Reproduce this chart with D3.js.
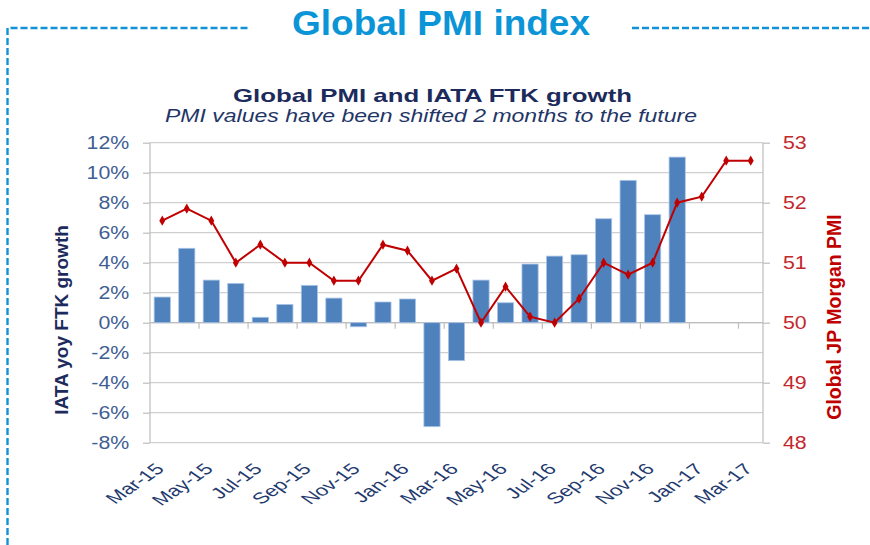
<!DOCTYPE html>
<html>
<head>
<meta charset="utf-8">
<script src="https://cdn.jsdelivr.net/npm/d3@7"></script>
<style>
  html, body { margin: 0; padding: 0; background: #fff; }
  svg { display: block; }
  text { font-family: "Liberation Sans", Arial, sans-serif; }
</style>
</head>
<body>
<svg id="chart" width="870" height="545"></svg>
<script>
// ---- data ----
const months = ["Mar-15","Apr-15","May-15","Jun-15","Jul-15","Aug-15","Sep-15","Oct-15","Nov-15","Dec-15",
  "Jan-16","Feb-16","Mar-16","Apr-16","May-16","Jun-16","Jul-16","Aug-16","Sep-16","Oct-16","Nov-16","Dec-16",
  "Jan-17","Feb-17","Mar-17"];
const ftkGrowth = [1.71, 4.96, 2.84, 2.62, 0.36, 1.22, 2.49, 1.64, -0.27, 1.38, 1.58, -6.93, -2.53,
  2.84, 1.33, 3.91, 4.44, 4.53, 6.93, 9.49, 7.2, 11.04, null, null, null];
const pmiValues = [51.7, 51.9, 51.7, 51.0, 51.3, 51.0, 51.0, 50.7, 50.7, 51.3, 51.2, 50.7, 50.9,
  50.0, 50.6, 50.1, 50.0, 50.4, 51.0, 50.8, 51.0, 52.0, 52.1, 52.7, 52.7];
const xTickLabels = ["Mar-15","May-15","Jul-15","Sep-15","Nov-15","Jan-16","Mar-16","May-16","Jul-16","Sep-16","Nov-16","Jan-17","Mar-17"];
const leftTicks = [12, 10, 8, 6, 4, 2, 0, -2, -4, -6, -8];
const rightTicks = [53, 52, 51, 50, 49, 48];
const pageTitle = "Global PMI index";
const chartTitle = "Global PMI and IATA FTK growth";
const chartSubtitle = "PMI values have been shifted 2 months to the future";
const leftAxisTitle = "IATA yoy FTK growth";
const rightAxisTitle = "Global JP Morgan PMI";

// ---- layout ----
const svg = d3.select("#chart");
const L = 150, R = 763, T = 142.7, B = 442.7;

function stretch(sel, k) {
  sel.each(function () {
    const w = this.getComputedTextLength();
    this.setAttribute("textLength", w * k);
    this.setAttribute("lengthAdjust", "spacingAndGlyphs");
  });
}

const x = d3.scaleBand().domain(months).range([L, R]).paddingInner(0.34).paddingOuter(0.17);
const yL = d3.scaleLinear().domain([-8, 12]).range([B, T]);
const yR = d3.scaleLinear().domain([48, 53]).range([B, T]);

// ---- frame (dashed) ----
svg.append("path")
  .attr("d", "M7.5,545 V28 H248 M632,28 H870")
  .attr("fill", "none").attr("stroke", "#1192d6").attr("stroke-width", 2.4)
  .attr("stroke-dasharray", "7,3");

svg.append("text").text(pageTitle)
  .attr("x", 292).attr("y", 35)
  .attr("font-family", "Lato, 'Open Sans', sans-serif")
  .attr("font-weight", "bold").attr("font-size", 35).attr("fill", "#0b95d7")
  .attr("textLength", 298).attr("lengthAdjust", "spacingAndGlyphs");

svg.append("text").text(chartTitle)
  .attr("x", 233).attr("y", 101.5)
  .attr("font-weight", "bold").attr("font-size", 19).attr("fill", "#1c2b5c")
  .attr("textLength", 399).attr("lengthAdjust", "spacingAndGlyphs");

svg.append("text").text(chartSubtitle)
  .attr("x", 165).attr("y", 121.5)
  .attr("font-style", "italic").attr("font-size", 17.5).attr("fill", "#1f3667")
  .attr("textLength", 532).attr("lengthAdjust", "spacingAndGlyphs");

// ---- gridlines ----
svg.append("g").selectAll("line").data(leftTicks).join("line")
  .attr("x1", L).attr("x2", R)
  .attr("y1", d => yL(d)).attr("y2", d => yL(d))
  .attr("stroke", "#cfcfcf").attr("stroke-width", 1.2);

// ---- left axis ----
const gL = svg.append("g").attr("transform", `translate(${L},0)`)
  .call(d3.axisLeft(yL).tickValues(leftTicks).tickFormat(d => d + "%").tickSize(7).tickPadding(13.7));
gL.select(".domain").attr("stroke", "#bdbdbd").attr("stroke-width", 1.2).attr("d", `M-0,${T}V${B}`);
gL.selectAll(".tick line").attr("stroke", "#bdbdbd").attr("stroke-width", 1.2);
gL.selectAll(".tick text").attr("font-size", 17.5).attr("fill", "#3f5f93")
  .attr("font-family", "'Liberation Sans', Arial, sans-serif").call(stretch, 1.22);

// ---- right axis ----
const gR = svg.append("g").attr("transform", `translate(${R},0)`)
  .call(d3.axisRight(yR).tickValues(rightTicks).tickFormat(d3.format("d")).tickSize(7).tickPadding(13));
gR.select(".domain").attr("stroke", "#bdbdbd").attr("stroke-width", 1.2).attr("d", `M0,${T}V${B}`);
gR.selectAll(".tick line").attr("stroke", "#bdbdbd").attr("stroke-width", 1.2);
gR.selectAll(".tick text").attr("font-size", 17.5).attr("fill", "#c3282c")
  .attr("font-family", "'Liberation Sans', Arial, sans-serif").call(stretch, 1.22);

// ---- zero axis with category ticks ----
const y0 = yL(0);
svg.append("line").attr("x1", L).attr("x2", R).attr("y1", y0).attr("y2", y0)
  .attr("stroke", "#bdbdbd").attr("stroke-width", 1.2);
const boundaryIdx = d3.range(2, months.length, 2);
svg.append("g").selectAll("line").data(boundaryIdx).join("line")
  .attr("x1", i => x(months[i]) - x.step() * x.paddingInner() / 2)
  .attr("x2", i => x(months[i]) - x.step() * x.paddingInner() / 2)
  .attr("y1", y0).attr("y2", y0 + 6)
  .attr("stroke", "#bdbdbd").attr("stroke-width", 1.2);

// ---- bars ----
const barData = months.map((m, i) => ({ m, v: ftkGrowth[i] })).filter(d => d.v !== null);
svg.append("g").selectAll("rect").data(barData).join("rect")
  .attr("x", d => x(d.m))
  .attr("width", x.bandwidth())
  .attr("y", d => yL(Math.max(0, d.v)))
  .attr("height", d => Math.abs(yL(d.v) - yL(0)))
  .attr("fill", "#4f81bd").attr("stroke", "#a9c4e6").attr("stroke-width", 0.8);

// ---- PMI line ----
const pmiData = months.map((m, i) => ({ m, v: pmiValues[i] }));
svg.append("path").datum(pmiData)
  .attr("d", d3.line().x(d => x(d.m) + x.bandwidth() / 2).y(d => yR(d.v)))
  .attr("fill", "none").attr("stroke", "#c00000").attr("stroke-width", 2);
svg.append("g").selectAll("path").data(pmiData).join("path")
  .attr("transform", d => `translate(${x(d.m) + x.bandwidth() / 2},${yR(d.v)})`)
  .attr("d", d3.symbol().type(d3.symbolDiamond).size(30))
  .attr("fill", "#c00000");

// ---- x labels ----
svg.append("g").selectAll("text").data(xTickLabels).join("text")
  .text(d => d)
  .attr("transform", d => `translate(${x(d) + x.bandwidth() / 2 + 3},470) scale(1.45,1) rotate(-45)`)
  .attr("text-anchor", "end")
  .attr("font-size", 15.5).attr("fill", "#1f3a6e");

// ---- axis titles ----
svg.append("text").text(leftAxisTitle)
  .attr("transform", "translate(68,320) rotate(-90)")
  .attr("text-anchor", "middle")
  .attr("font-weight", "bold").attr("font-size", 19).attr("fill", "#1c2b5c");

svg.append("text").text(rightAxisTitle)
  .attr("transform", "translate(841,317) rotate(-90)")
  .attr("text-anchor", "middle")
  .attr("font-weight", "bold").attr("font-size", 19.5).attr("fill", "#c00000");
</script>
</body>
</html>
